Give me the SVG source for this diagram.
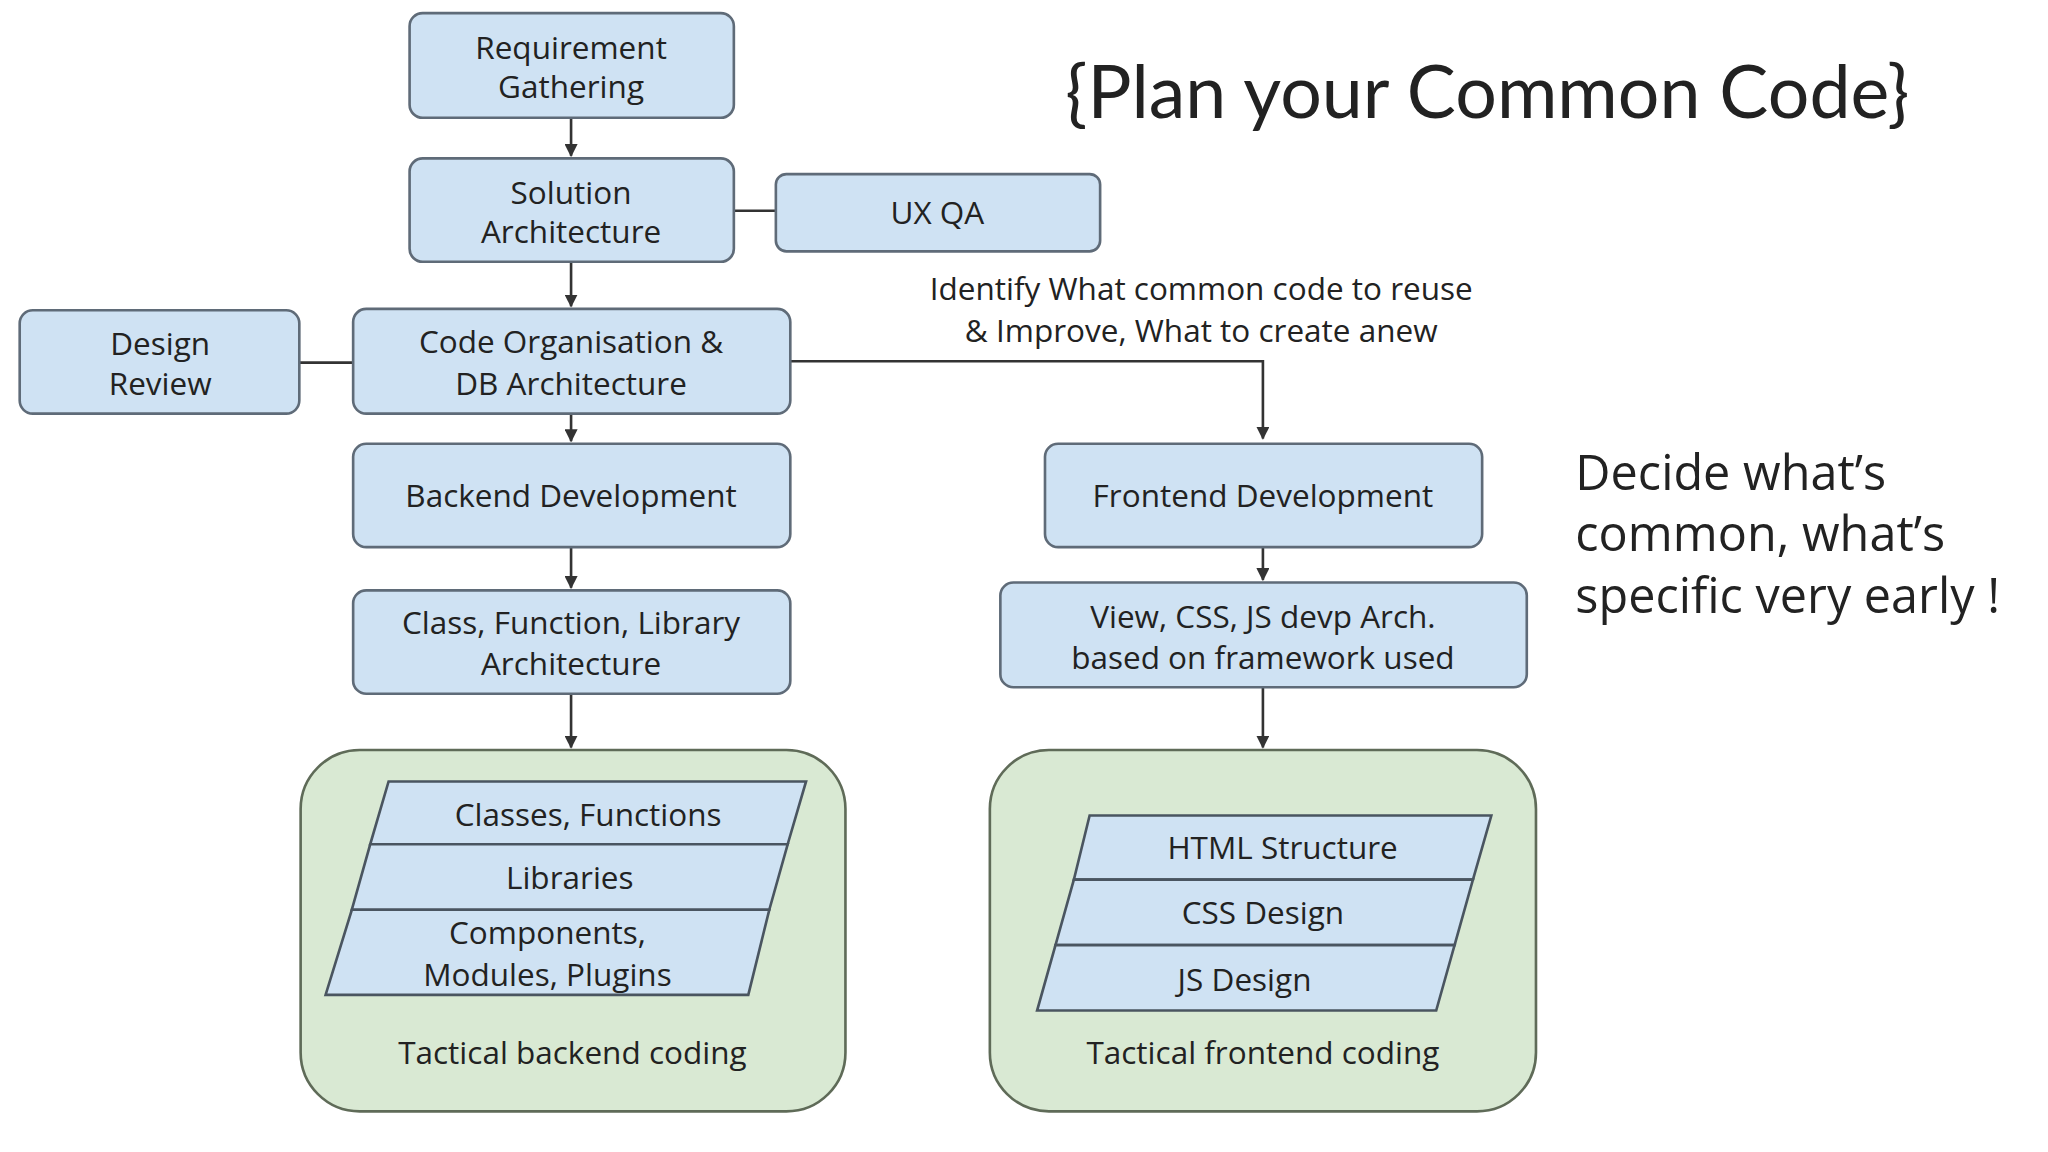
<svg xmlns="http://www.w3.org/2000/svg" width="2048" height="1152" viewBox="0 0 2048 1152">
<style>
.b{fill:#cfe2f3;stroke:#5f6b78;stroke-width:2}
.g{fill:#d9e9d3;stroke:#5f6b58;stroke-width:2}
.p{fill:#cfe2f3;stroke:#4a5560;stroke-width:2}
text{font-family:"Open Sans","DejaVu Sans",sans-serif;fill:#222;font-size:24px;text-anchor:middle}
.c line,.c path{stroke:#333;stroke-width:2;fill:none}
</style>
<defs><marker id="a" viewBox="0 0 10 10" refX="9" refY="5" markerWidth="5" markerHeight="5" orient="auto"><path d="M0,0L10,5L0,10z" fill="#333"/></marker></defs>
<rect width="2048" height="1152" fill="#fff"/>
<g transform="scale(1.3128,1.309)">
<g class="c">
<line x1="435" y1="90" x2="435" y2="119" marker-end="url(#a)"/>
<line x1="435" y1="200" x2="435" y2="234" marker-end="url(#a)"/>
<line x1="559" y1="161" x2="591" y2="161"/>
<line x1="228" y1="277" x2="269" y2="277"/>
<line x1="435" y1="316" x2="435" y2="337" marker-end="url(#a)"/>
<line x1="435" y1="418" x2="435" y2="449" marker-end="url(#a)"/>
<line x1="435" y1="530" x2="435" y2="571" marker-end="url(#a)"/>
<path d="M602,276H962V335" marker-end="url(#a)"/>
<line x1="962" y1="418" x2="962" y2="443" marker-end="url(#a)"/>
<line x1="962" y1="525" x2="962" y2="571" marker-end="url(#a)"/>
</g>
<g id="req"><rect class="b" x="312" y="10" width="247" height="80" rx="10"/><text x="435" y="45">Requirement</text><text x="435" y="75">Gathering</text></g>
<g id="sol"><rect class="b" x="312" y="121" width="247" height="79" rx="10"/><text x="435" y="156">Solution</text><text x="435" y="186">Architecture</text></g>
<g id="uxqa"><rect class="b" x="591" y="133" width="247" height="59" rx="8"/><text x="714" y="171">UX QA</text></g>
<g id="design"><rect class="b" x="15" y="237" width="213" height="79" rx="10"/><text x="122" y="271">Design</text><text x="122" y="302">Review</text></g>
<g id="codeorg"><rect class="b" x="269" y="236" width="333" height="80" rx="10"/><text x="435" y="270">Code Organisation &amp;</text><text x="435" y="302">DB Architecture</text></g>
<g id="backend"><rect class="b" x="269" y="339" width="333" height="79" rx="10"/><text x="435" y="387">Backend Development</text></g>
<g id="classfn"><rect class="b" x="269" y="451" width="333" height="79" rx="10"/><text x="435" y="484">Class, Function, Library</text><text x="435" y="516">Architecture</text></g>
<g id="frontend"><rect class="b" x="796" y="339" width="333" height="79" rx="10"/><text x="962" y="387">Frontend Development</text></g>
<g id="view"><rect class="b" x="762" y="445" width="401" height="80" rx="10"/><text x="962" y="480">View, CSS, JS devp Arch.</text><text x="962" y="511">based on framework used</text></g>
<g id="label"><text x="915" y="229">Identify What common code to reuse</text><text x="915" y="261">&amp; Improve, What to create anew</text></g>
<g id="tback"><rect class="g" x="229" y="573" width="415" height="276" rx="45"/>
<path class="p" d="M296,597H614L600,645H282Z"/><text x="448" y="631">Classes, Functions</text>
<path class="p" d="M282,645H600L586,695H268Z"/><text x="434" y="679">Libraries</text>
<path class="p" d="M268,695H586L570,760H248Z"/><text x="417" y="721">Components,</text><text x="417" y="753">Modules, Plugins</text>
<text x="436" y="813">Tactical backend coding</text></g>
<g id="tfront"><rect class="g" x="754" y="573" width="416" height="276" rx="45"/>
<path class="p" d="M830,623H1136L1122,672H818Z"/><text x="977" y="656">HTML Structure</text>
<path class="p" d="M818,672H1122L1108,722H804Z"/><text x="962" y="706">CSS Design</text>
<path class="p" d="M804,722H1108L1094,772H790Z"/><text x="948" y="757">JS Design</text>
<text x="962" y="813">Tactical frontend coding</text></g>
<text x="1133" y="90" style="font-size:56px;font-family:Lato,'Open Sans',sans-serif;fill:#222">{Plan your Common Code}</text>
<g style="font-size:37px">
<text x="1200" y="374" style="text-anchor:start;font-size:37px">Decide what’s</text>
<text x="1200" y="421" style="text-anchor:start;font-size:37px">common, what’s</text>
<text x="1200" y="468" style="text-anchor:start;font-size:37px">specific very early !</text>
</g>
</g>
</svg>
